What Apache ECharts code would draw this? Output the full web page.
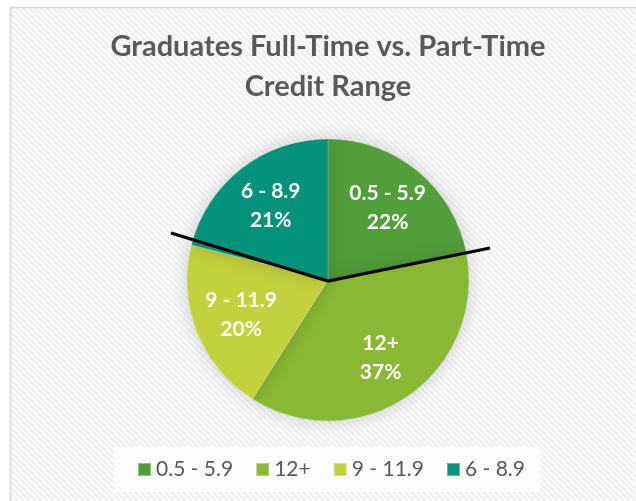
<!DOCTYPE html>
<html>
<head>
<meta charset="utf-8">
<script src="https://cdn.jsdelivr.net/npm/echarts@6/dist/echarts.min.js"></script>
<style>
  html, body { margin: 0; padding: 0; background: #fff; }
  #main { width: 636px; height: 501px; }
</style>
</head>
<body>
<div id="main"></div>
<script>
  // data
  var categories = ['0.5 - 5.9', '12+', '9 - 11.9', '6 - 8.9'];
  var shares = [22, 37, 20, 21];
  var sliceColors = ['#529e3b', '#8ab834', '#c3d13c', '#04937a'];

  var pieCenter = [328, 280];
  var pieRadius = 141;

  // striped background like the excel chart area
  function stripePattern() {
    var c = document.createElement('canvas');
    c.width = 6; c.height = 6;
    var ctx = c.getContext('2d');
    ctx.fillStyle = '#efefef';
    ctx.fillRect(0, 0, 6, 6);
    ctx.strokeStyle = '#fbfbfb';
    ctx.lineWidth = 2.2;
    ctx.beginPath();
    ctx.moveTo(-1, -1); ctx.lineTo(7, 7);
    ctx.moveTo(-4, 2); ctx.lineTo(4, 10);
    ctx.moveTo(2, -4); ctx.lineTo(10, 4);
    ctx.stroke();
    return c;
  }

  // hand-drawn annotation line (left arm, vertex at pie centre, right arm)
  function armPoint(dx, dy) {
    return [pieCenter[0] + dx, pieCenter[1] + dy];
  }

  var pieData = categories.map(function (name, i) {
    return { name: name, value: shares[i], itemStyle: { color: sliceColors[i] } };
  });

  var myChart = echarts.init(document.getElementById('main'));
  var option = {
    backgroundColor: '#ffffff',
    animation: false,
    title: {
      text: 'Graduates Full-Time vs. Part-Time\nCredit Range',
      left: 328,
      textAlign: 'center',
      top: 27,
      padding: 0,
      textStyle: {
        fontFamily: 'Lato',
        fontWeight: 'bold',
        fontSize: 29,
        lineHeight: 40,
        color: '#595959'
      }
    },
    legend: {
      left: 114,
      top: 447,
      padding: [12, 15, 12, 23],
      backgroundColor: '#fcfcfc',
      itemWidth: 13,
      itemHeight: 13,
      itemGap: 22,
      icon: 'rect',
      data: categories,
      textStyle: { fontFamily: 'Lato', fontSize: 21, color: '#595959' }
    },
    graphic: [
      {
        type: 'rect',
        z: -10,
        silent: true,
        shape: { x: 10.5, y: 7.5, width: 640, height: 510 },
        style: { fill: { image: stripePattern(), repeat: 'repeat' }, stroke: '#d6d6d6', lineWidth: 1.5 }
      },
      {
        type: 'polyline',
        z: 100,
        silent: true,
        shape: { points: [armPoint(-157, -47), armPoint(0, 1), armPoint(162, -32)] },
        style: { stroke: '#000', lineWidth: 3.2, fill: null }
      }
    ],
    series: [
      {
        type: 'pie',
        center: pieCenter,
        radius: [0, pieRadius],
        startAngle: 90,
        clockwise: true,
        data: pieData,
        label: { show: false },
        labelLine: { show: false },
        itemStyle: {
          borderColor: 'rgba(255,255,255,0.35)',
          borderWidth: 0.6,
          shadowBlur: 18,
          shadowColor: 'rgba(0,0,0,0.18)'
        },
        emphasis: { disabled: true }
      },
      {
        // transparent ring only to place the labels further out
        type: 'pie',
        center: pieCenter,
        radius: [40, pieRadius],
        startAngle: 90,
        clockwise: true,
        silent: true,
        data: pieData.map(function (d) {
          return { name: d.name, value: d.value, itemStyle: { color: 'rgba(0,0,0,0)' } };
        }),
        label: {
          show: true,
          position: 'inside',
          formatter: '{b}\n{d}%',
          color: '#ffffff',
          fontFamily: 'Lato',
          fontWeight: 'bold',
          fontSize: 21,
          lineHeight: 29
        },
        labelLine: { show: false },
        emphasis: { disabled: true }
      }
    ]
  };
  myChart.setOption(option);
</script>
</body>
</html>
